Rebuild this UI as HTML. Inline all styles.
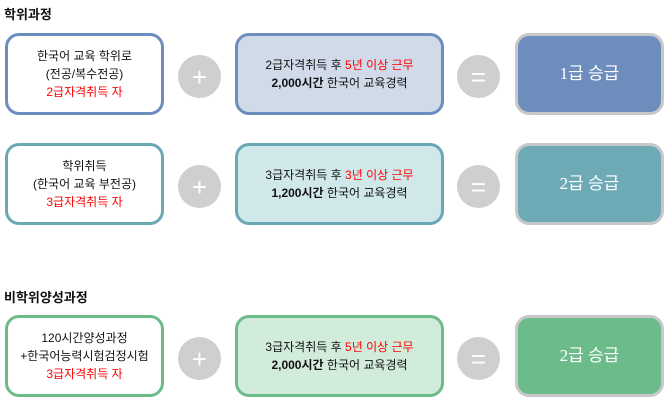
<!DOCTYPE html>
<html><head><meta charset="utf-8"><style>
body{margin:0;width:670px;height:400px;background:#fff;position:relative;font-family:"Liberation Sans","Noto Sans CJK KR",sans-serif;overflow:hidden}
.h{position:absolute;left:4px;font-size:13px;font-weight:bold;color:#111}
.b{position:absolute;box-sizing:border-box;border:3px solid;border-radius:14px;display:flex;flex-direction:column;justify-content:center;align-items:center;text-align:center;font-size:12px;line-height:18px;color:#111}
.r{color:#f00}
.c{position:absolute;width:43px;height:43px;border-radius:50%;background:#cfcfcf;color:#fff;font-size:26px;display:flex;align-items:center;justify-content:center;line-height:1}
.res{border-color:#c8c8c8;color:#fff;font-size:17px;font-family:"Liberation Serif","Noto Sans CJK KR",serif}
</style></head><body>
<div class="h" style="top:4px">학위과정</div>
<div class="h" style="top:287px">비학위양성과정</div>

<div class="b" style="left:5px;top:33px;width:159px;height:82px;border-color:#6c8ebf"><div>한국어 교육 학위로</div><div>(전공/복수전공)</div><div class="r">2급자격취득 자</div></div>
<div class="c" style="left:178px;top:55px">+</div>
<div class="b" style="left:235px;top:33px;width:209px;height:82px;border-color:#6c8ebf;background:#d0dae8"><div>2급자격취득 후 <span class="r">5년 이상 근무</span></div><div><b>2,000시간</b> 한국어 교육경력</div></div>
<div class="c" style="left:457px;top:55px">=</div>
<div class="b res" style="left:515px;top:33px;width:149px;height:82px;background:#6d8ebc">1급 승급</div>

<div class="b" style="left:5px;top:143px;width:159px;height:82px;border-color:#6aa8b4"><div>학위취득</div><div>(한국어 교육 부전공)</div><div class="r">3급자격취득 자</div></div>
<div class="c" style="left:178px;top:165px">+</div>
<div class="b" style="left:235px;top:143px;width:209px;height:82px;border-color:#6aa8b4;background:#d0e8ea"><div>3급자격취득 후 <span class="r">3년 이상 근무</span></div><div><b>1,200시간</b> 한국어 교육경력</div></div>
<div class="c" style="left:457px;top:165px">=</div>
<div class="b res" style="left:515px;top:143px;width:149px;height:82px;background:#6eaab6">2급 승급</div>

<div class="b" style="left:5px;top:315px;width:159px;height:82px;border-color:#6cbb88"><div>120시간양성과정</div><div>+한국어능력시험검정시험</div><div class="r">3급자격취득 자</div></div>
<div class="c" style="left:178px;top:337px">+</div>
<div class="b" style="left:235px;top:315px;width:209px;height:82px;border-color:#6cbb88;background:#d2ecdb"><div>3급자격취득 후 <span class="r">5년 이상 근무</span></div><div><b>2,000시간</b> 한국어 교육경력</div></div>
<div class="c" style="left:457px;top:337px">=</div>
<div class="b res" style="left:515px;top:315px;width:149px;height:82px;background:#6cbb8a">2급 승급</div>
</body></html>
